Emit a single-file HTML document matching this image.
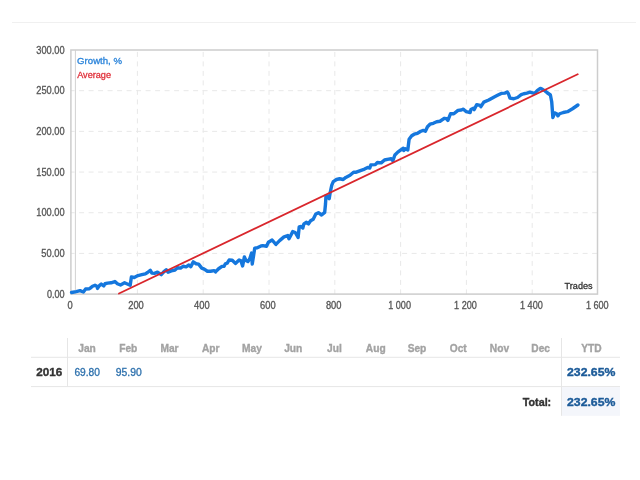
<!DOCTYPE html>
<html><head><meta charset="utf-8"><style>
html,body{margin:0;padding:0;background:#fff;width:640px;height:480px;overflow:hidden}
svg{position:absolute;left:0;top:0;will-change:transform;filter:blur(0.3px)}
text{font-family:"Liberation Sans",sans-serif}
</style></head><body>
<svg width="640" height="480" viewBox="0 0 640 480">
<line x1="12" y1="22.5" x2="636" y2="22.5" stroke="#f0f0f0" stroke-width="1"/>
<g stroke="#e8e8e8" stroke-width="1" stroke-dasharray="5 4.5" stroke-dashoffset="1.3"><line x1="70.9" y1="90.68" x2="597.5" y2="90.68"/><line x1="70.9" y1="131.37" x2="597.5" y2="131.37"/><line x1="70.9" y1="172.05" x2="597.5" y2="172.05"/><line x1="70.9" y1="212.73" x2="597.5" y2="212.73"/><line x1="70.9" y1="253.42" x2="597.5" y2="253.42"/></g>
<g stroke="#e8e8e8" stroke-width="1" stroke-dasharray="5 4.5" stroke-dashoffset="7.6"><line x1="137.40" y1="50.0" x2="137.40" y2="294.1"/><line x1="203.20" y1="50.0" x2="203.20" y2="294.1"/><line x1="269.00" y1="50.0" x2="269.00" y2="294.1"/><line x1="334.80" y1="50.0" x2="334.80" y2="294.1"/><line x1="400.60" y1="50.0" x2="400.60" y2="294.1"/><line x1="466.40" y1="50.0" x2="466.40" y2="294.1"/><line x1="532.20" y1="50.0" x2="532.20" y2="294.1"/></g>
<rect x="70.9" y="50.0" width="526.60" height="244.10" fill="none" stroke="#cdcdcd" stroke-width="1.5"/>
<line x1="75.4" y1="50.0" x2="75.4" y2="294.1" stroke="#d2d2d2" stroke-width="1"/>
<path d="M71.56 292.5 L76.25 291.56 L80 290.6 L83.4 292 L85.6 289.06 L89.4 288.75 L90.6 287.8 L92.5 286.25 L95 285.3 L96.9 286.25 L97.5 288.4 L99.4 285.6 L101.25 284.06 L103.75 285.9 L105 283.75 L107.5 283.1 L111.1 282.8 L114.9 281.56 L117.4 283.75 L120.5 285 L124.56 282.8 L126.75 283.75 L130.2 285.3 L131.4 276.9 L134.25 277.5 L138 275.6 L141.75 274.7 L145.3 273.9 L147.5 272.5 L150.3 270.3 L151.9 273.1 L154.4 273.4 L157.5 272.2 L161.25 274.7 L163.75 271.9 L166.25 269.7 L168.1 272.2 L171.25 270.9 L175 270 L177.5 267.8 L180.6 268.1 L183.1 266.25 L186.1 266.9 L188.9 265 L190.8 266.6 L193.3 261.9 L196.1 263.75 L198.6 264.1 L201.75 268.1 L204.25 269.1 L207.4 271.25 L210.5 271.25 L214.25 270.6 L215.5 271.9 L218.6 268.75 L222 266.4 L224.1 266.25 L225.4 263.75 L227.25 263.1 L229.1 260 L232.25 260.3 L235.4 263.4 L239.1 260 L241 260.9 L242.6 265.9 L244.4 256.9 L246 260.6 L247.9 261.6 L249.75 258.75 L251.6 253.1 L252.25 264.1 L254.75 248.1 L257.25 247.8 L261 245.9 L262.75 245.6 L266.5 246.25 L268.4 242.2 L272.1 240 L275.9 244.4 L279.6 240.6 L284 236.9 L287.75 235.6 L289 238.75 L292.75 231.6 L295.25 232.5 L297.4 236.25 L298.1 237.5 L299.2 227 L301.25 226.5 L302.8 228 L303.9 223.9 L306.5 222.3 L308.5 223.9 L310.6 220.7 L313.2 219.2 L315.8 214 L318.4 212.7 L321.6 215 L324.7 212.4 L325.5 204 L326 195.6 L327.6 196.7 L329.2 198.75 L330.2 192.5 L331.8 185.2 L333.3 181.6 L336.5 179.5 L339.6 178.75 L343.2 179.5 L345.8 177.4 L350 175.3 L353.6 172.2 L356.25 172.2 L360.4 170.6 L364.6 169.1 L367.7 167.5 L369.8 168 L370.8 164.9 L375.3 164.6 L377.4 162.5 L381.2 162.9 L384.5 160 L388.7 159.2 L391.2 158.75 L392.8 160.8 L394.9 155 L397.8 152.1 L401.2 149.6 L403.25 148.3 L403.7 150.5 L405.3 148.75 L407.8 150 L409.1 139.2 L411.7 135.8 L414.2 134.2 L417.5 133.3 L420.8 131.25 L423.3 130.4 L425.4 131.25 L427.5 126.7 L430 124.2 L433.3 123.3 L436.7 121.7 L440 121.25 L444.2 118.3 L446.7 118.75 L447.9 120.4 L450.5 113.75 L453.8 113.75 L458 110.4 L461.3 110 L463.4 109.2 L466.3 111.7 L470.1 112.5 L470.9 109.6 L473.4 108.3 L474.25 109.6 L476.75 104.6 L480.1 105.4 L480.9 106.7 L483.8 102.1 L488.75 100 L493.75 97.2 L497.5 95.3 L501.25 93.4 L505 93.1 L507.2 91.9 L508.4 93.75 L510 98.1 L513.75 98.75 L517.5 97.5 L521.25 94.7 L523.75 93.75 L526.9 93.1 L530 92.2 L532.5 92.8 L535 93.4 L537.5 90.3 L540.3 88.4 L542.5 89.4 L545 90.9 L546.9 92.5 L550.4 95 L551.7 101.7 L552.9 117.5 L554.6 112.9 L556.7 113.75 L557.9 115.8 L559.6 113.75 L563.3 112.5 L567.5 111.7 L572.5 108.75 L577.9 105" fill="none" stroke="#1577dd" stroke-width="3.4" stroke-linejoin="round" stroke-linecap="round"/>
<line x1="119" y1="293.5" x2="577.7" y2="74.3" stroke="#d9262c" stroke-width="1.8" stroke-linecap="round"/>
<g stroke="#e6e6e6" stroke-width="1">
<line x1="31" y1="357.3" x2="620" y2="357.3"/>
<line x1="31" y1="386.6" x2="620" y2="386.6"/>
<line x1="67.5" y1="338" x2="67.5" y2="386.6"/>
<line x1="561.5" y1="338" x2="561.5" y2="415.8"/>
</g>
<rect x="562" y="387.1" width="58" height="28.7" fill="#f4f6fb"/>
<text x="64.60" y="53.60" text-anchor="end" font-size="10.2" fill="#555" stroke="#555" stroke-width="0.3" textLength="28.3" lengthAdjust="spacingAndGlyphs">300.00</text>
<text x="64.60" y="94.28" text-anchor="end" font-size="10.2" fill="#555" stroke="#555" stroke-width="0.3" textLength="28.3" lengthAdjust="spacingAndGlyphs">250.00</text>
<text x="64.60" y="134.97" text-anchor="end" font-size="10.2" fill="#555" stroke="#555" stroke-width="0.3" textLength="28.3" lengthAdjust="spacingAndGlyphs">200.00</text>
<text x="64.60" y="175.65" text-anchor="end" font-size="10.2" fill="#555" stroke="#555" stroke-width="0.3" textLength="28.3" lengthAdjust="spacingAndGlyphs">150.00</text>
<text x="64.60" y="216.33" text-anchor="end" font-size="10.2" fill="#555" stroke="#555" stroke-width="0.3" textLength="28.3" lengthAdjust="spacingAndGlyphs">100.00</text>
<text x="64.60" y="257.02" text-anchor="end" font-size="10.2" fill="#555" stroke="#555" stroke-width="0.3" textLength="23.3" lengthAdjust="spacingAndGlyphs">50.00</text>
<text x="64.60" y="298.10" text-anchor="end" font-size="10.2" fill="#555" stroke="#555" stroke-width="0.3" textLength="17.7" lengthAdjust="spacingAndGlyphs">0.00</text>
<text x="70.10" y="308.60" text-anchor="middle" font-size="10.1" fill="#555" stroke="#555" stroke-width="0.3" textLength="5.2" lengthAdjust="spacingAndGlyphs">0</text>
<text x="136.00" y="308.60" text-anchor="middle" font-size="10.1" fill="#555" stroke="#555" stroke-width="0.3" textLength="15.6" lengthAdjust="spacingAndGlyphs">200</text>
<text x="201.90" y="308.60" text-anchor="middle" font-size="10.1" fill="#555" stroke="#555" stroke-width="0.3" textLength="15.6" lengthAdjust="spacingAndGlyphs">400</text>
<text x="267.80" y="308.60" text-anchor="middle" font-size="10.1" fill="#555" stroke="#555" stroke-width="0.3" textLength="15.6" lengthAdjust="spacingAndGlyphs">600</text>
<text x="333.70" y="308.60" text-anchor="middle" font-size="10.1" fill="#555" stroke="#555" stroke-width="0.3" textLength="15.6" lengthAdjust="spacingAndGlyphs">800</text>
<text x="399.60" y="308.60" text-anchor="middle" font-size="10.1" fill="#555" stroke="#555" stroke-width="0.3" textLength="22.8" lengthAdjust="spacingAndGlyphs">1 000</text>
<text x="465.50" y="308.60" text-anchor="middle" font-size="10.1" fill="#555" stroke="#555" stroke-width="0.3" textLength="22.8" lengthAdjust="spacingAndGlyphs">1 200</text>
<text x="531.40" y="308.60" text-anchor="middle" font-size="10.1" fill="#555" stroke="#555" stroke-width="0.3" textLength="22.8" lengthAdjust="spacingAndGlyphs">1 400</text>
<text x="597.30" y="308.60" text-anchor="middle" font-size="10.1" fill="#555" stroke="#555" stroke-width="0.3" textLength="22.8" lengthAdjust="spacingAndGlyphs">1 600</text>
<text x="592.60" y="288.70" text-anchor="end" font-size="9.8" fill="#333" stroke="#333" stroke-width="0.3" textLength="28" lengthAdjust="spacingAndGlyphs">Trades</text>
<text x="77.10" y="63.80" text-anchor="start" font-size="9.2" fill="#2b84da" stroke="#2b84da" stroke-width="0.3" textLength="44.9" lengthAdjust="spacingAndGlyphs">Growth, %</text>
<text x="77.20" y="77.90" text-anchor="start" font-size="9.2" fill="#e0303a" stroke="#e0303a" stroke-width="0.3" textLength="33.8" lengthAdjust="spacingAndGlyphs">Average</text>
<text x="87.05" y="351.90" text-anchor="middle" font-size="10.2" font-weight="bold" fill="#a3a3a3" stroke="#a3a3a3" stroke-width="0.35">Jan</text>
<text x="128.29" y="351.90" text-anchor="middle" font-size="10.2" font-weight="bold" fill="#a3a3a3" stroke="#a3a3a3" stroke-width="0.35">Feb</text>
<text x="169.53" y="351.90" text-anchor="middle" font-size="10.2" font-weight="bold" fill="#a3a3a3" stroke="#a3a3a3" stroke-width="0.35">Mar</text>
<text x="210.77" y="351.90" text-anchor="middle" font-size="10.2" font-weight="bold" fill="#a3a3a3" stroke="#a3a3a3" stroke-width="0.35">Apr</text>
<text x="252.01" y="351.90" text-anchor="middle" font-size="10.2" font-weight="bold" fill="#a3a3a3" stroke="#a3a3a3" stroke-width="0.35">May</text>
<text x="293.25" y="351.90" text-anchor="middle" font-size="10.2" font-weight="bold" fill="#a3a3a3" stroke="#a3a3a3" stroke-width="0.35">Jun</text>
<text x="334.49" y="351.90" text-anchor="middle" font-size="10.2" font-weight="bold" fill="#a3a3a3" stroke="#a3a3a3" stroke-width="0.35">Jul</text>
<text x="375.73" y="351.90" text-anchor="middle" font-size="10.2" font-weight="bold" fill="#a3a3a3" stroke="#a3a3a3" stroke-width="0.35">Aug</text>
<text x="416.97" y="351.90" text-anchor="middle" font-size="10.2" font-weight="bold" fill="#a3a3a3" stroke="#a3a3a3" stroke-width="0.35">Sep</text>
<text x="458.21" y="351.90" text-anchor="middle" font-size="10.2" font-weight="bold" fill="#a3a3a3" stroke="#a3a3a3" stroke-width="0.35">Oct</text>
<text x="499.45" y="351.90" text-anchor="middle" font-size="10.2" font-weight="bold" fill="#a3a3a3" stroke="#a3a3a3" stroke-width="0.35">Nov</text>
<text x="540.69" y="351.90" text-anchor="middle" font-size="10.2" font-weight="bold" fill="#a3a3a3" stroke="#a3a3a3" stroke-width="0.35">Dec</text>
<text x="591.40" y="351.90" text-anchor="middle" font-size="10.2" font-weight="bold" fill="#a3a3a3" stroke="#a3a3a3" stroke-width="0.35">YTD</text>
<text x="62.30" y="376.30" text-anchor="end" font-size="10.5" font-weight="bold" fill="#333" stroke="#333" stroke-width="0.35" textLength="26" lengthAdjust="spacingAndGlyphs">2016</text>
<text x="87.20" y="376.30" text-anchor="middle" font-size="10.0" fill="#2e71ad" stroke="#2e71ad" stroke-width="0.3" textLength="25.6" lengthAdjust="spacingAndGlyphs">69.80</text>
<text x="128.75" y="376.30" text-anchor="middle" font-size="10.0" fill="#2e71ad" stroke="#2e71ad" stroke-width="0.3" textLength="26" lengthAdjust="spacingAndGlyphs">95.90</text>
<text x="591.20" y="376.30" text-anchor="middle" font-size="10.4" font-weight="bold" fill="#1b5a98" stroke="#1b5a98" stroke-width="0.35" textLength="48.4" lengthAdjust="spacingAndGlyphs">232.65%</text>
<text x="591.20" y="405.60" text-anchor="middle" font-size="10.4" font-weight="bold" fill="#1b5a98" stroke="#1b5a98" stroke-width="0.35" textLength="48.4" lengthAdjust="spacingAndGlyphs">232.65%</text>
<text x="551.20" y="405.60" text-anchor="end" font-size="10.4" font-weight="bold" fill="#333" stroke="#333" stroke-width="0.35" textLength="28.4" lengthAdjust="spacingAndGlyphs">Total:</text>
</svg>
</body></html>
